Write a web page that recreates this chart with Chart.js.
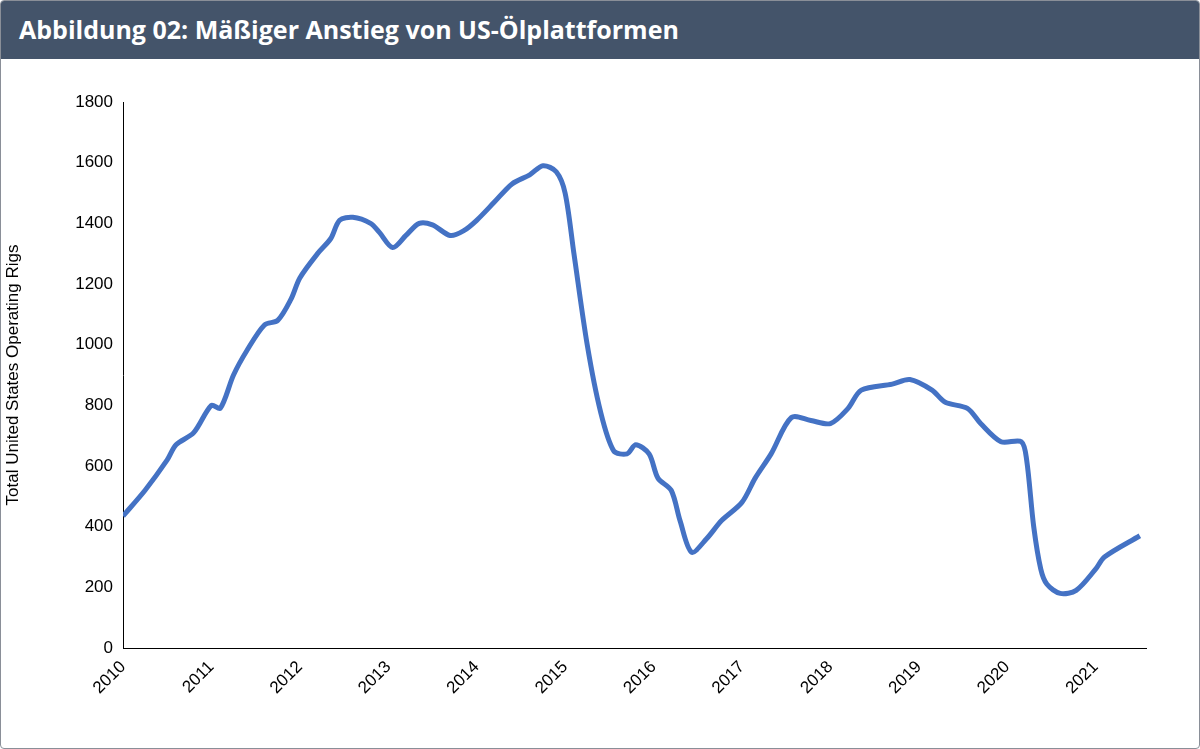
<!DOCTYPE html>
<html>
<head>
<meta charset="utf-8">
<script src="https://cdn.jsdelivr.net/npm/chart.js@4/dist/chart.umd.min.js"></script>
<style>
  body { margin: 0; background: #fff; }
  #frame { position: relative; width: 1198px; height: 747px; border: 1px solid #8a8f98; border-radius: 4px; overflow: hidden; }
  #title { height: 58px; background: #44546a; color: #fff; font: bold 25px "Open Sans", sans-serif; line-height: 56px; padding-left: 18px; }
  #wrap { position: absolute; left: 0; top: 58px; width: 1198px; height: 689px; }
</style>
</head>
<body>
<div id="frame">
  <div id="title">Abbildung 02: Mäßiger Anstieg von US-Ölplattformen</div>
  <div id="wrap"><canvas id="c"></canvas></div>
</div>
<script>
// time in decimal years, rig counts
const years = [2010.0, 2010.25, 2010.5, 2010.6, 2010.8, 2011.0, 2011.1, 2011.25, 2011.4, 2011.6,
  2011.75, 2011.9, 2012.0, 2012.2, 2012.35, 2012.45, 2012.6, 2012.8, 2012.9, 2013.05, 2013.2, 2013.35,
  2013.5, 2013.7, 2013.85, 2014.0, 2014.2, 2014.4, 2014.6, 2014.75, 2014.9, 2015.0, 2015.1, 2015.25,
  2015.4, 2015.55, 2015.7, 2015.8, 2015.95, 2016.05, 2016.2, 2016.3, 2016.43, 2016.6, 2016.77, 2017.0,
  2017.15, 2017.33, 2017.56, 2017.78, 2018.0, 2018.2, 2018.35, 2018.7, 2018.9, 2019.15, 2019.3, 2019.55,
  2019.7, 2019.93, 2020.16, 2020.22, 2020.3, 2020.38, 2020.45, 2020.6, 2020.78, 2021.0, 2021.1, 2021.5];
const rigs = [435, 520, 620, 670, 710, 800, 790, 900, 980, 1065,
  1080, 1150, 1220, 1300, 1350, 1410, 1420, 1400, 1370, 1320, 1360, 1400,
  1395, 1360, 1375, 1410, 1470, 1530, 1560, 1590, 1570, 1500, 1300, 1000,
  780, 650, 640, 670, 640, 560, 520, 420, 316, 360, 420, 480,
  560, 640, 760, 750, 740, 790, 850, 870, 885, 850, 810, 790,
  740, 680, 680, 620, 400, 260, 210, 180, 190, 260, 300, 370];
const yTicks = [0, 200, 400, 600, 800, 1000, 1200, 1400, 1600, 1800];
const xTicks = [2010, 2011, 2012, 2013, 2014, 2015, 2016, 2017, 2018, 2019, 2020, 2021];

const font = { family: "'Liberation Sans', Arial, sans-serif", size: 17 };
new Chart(document.getElementById('c'), {
  type: 'line',
  data: {
    datasets: [{
      data: years.map((y, i) => ({ x: y, y: rigs[i] })),
      borderColor: '#4472c4',
      borderWidth: 5,
      pointRadius: 0,
      tension: 0.3,
      fill: false
    }]
  },
  options: {
    responsive: true,
    maintainAspectRatio: false,
    animation: false,
    layout: { padding: { top: 43, right: 53 } },
    plugins: { legend: { display: false }, tooltip: { enabled: false } },
    scales: {
      x: {
        type: 'linear',
        min: 2010, max: 2021.57,
        afterFit: s => { s.height = 100; },
        afterBuildTicks: s => { s.ticks = xTicks.map(v => ({ value: v })); },
        grid: { display: false, drawTicks: true, tickLength: 6, color: '#000' },
        border: { color: '#000', width: 1 },
        ticks: { color: '#000', font, maxRotation: 45, minRotation: 45, callback: v => String(v) }
      },
      y: {
        min: 0, max: 1800,
        afterFit: s => { s.width = 122; },
        afterBuildTicks: s => { s.ticks = yTicks.map(v => ({ value: v })); },
        grid: { display: false, drawTicks: true, tickLength: 6, color: '#000' },
        border: { color: '#000', width: 1 },
        ticks: { color: '#000', font, padding: 4, callback: v => String(v) },
        title: { display: true, text: 'Total United States Operating Rigs', color: '#000', font, padding: 2 }
      }
    }
  }
});
</script>
</body>
</html>
